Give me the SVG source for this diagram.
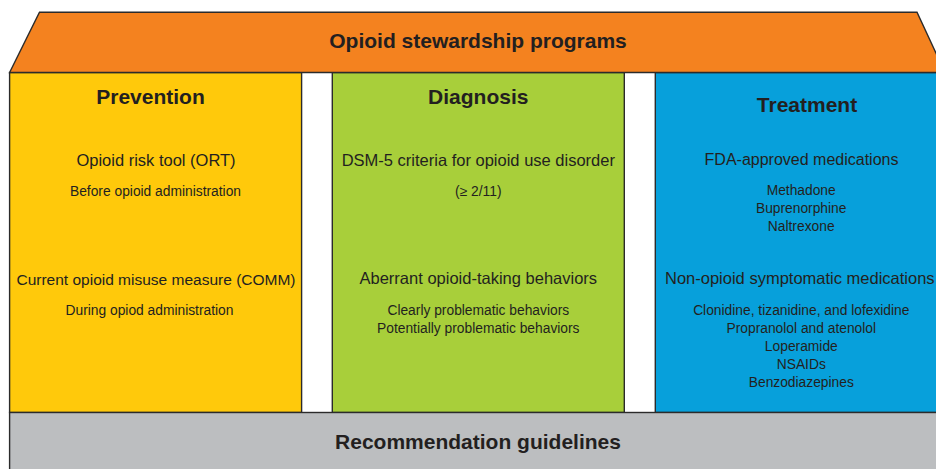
<svg xmlns="http://www.w3.org/2000/svg" width="936" height="469" viewBox="0 0 936 469">
  <style>
    .box { stroke: #2b2b2b; stroke-width: 1.4; }
    .head { font-family: "Liberation Sans", Arial, sans-serif; font-weight: bold; font-size: 21px; fill: #231f20; text-anchor: middle; }
    .sub { font-family: "Liberation Sans", Arial, sans-serif; font-size: 16.5px; fill: #231f20; text-anchor: middle; }
    .item { font-family: "Liberation Sans", Arial, sans-serif; font-size: 13.8px; fill: #231f20; text-anchor: middle; }
  </style>
  <rect width="936" height="469" fill="#ffffff"/>

  <!-- Prevention column -->
  <g id="prevention">
    <rect class="box" x="9.6" y="72.5" width="292" height="340" fill="#ffc90b"/>
    <text class="head" x="150.5" y="104.3">Prevention</text>
    <text class="sub" x="156" y="165.8">Opioid risk tool (ORT)</text>
    <text class="item" x="155.5" y="196">Before opioid administration</text>
    <text class="sub" x="156" y="285" style="font-size:15.5px">Current opioid misuse measure (COMM)</text>
    <text class="item" x="149.5" y="315">During opiod administration</text>
  </g>

  <!-- Diagnosis column -->
  <g id="diagnosis">
    <rect class="box" x="332.3" y="72.5" width="292" height="340" fill="#a8cf3a"/>
    <text class="head" x="478.3" y="104.3">Diagnosis</text>
    <text class="sub" x="478.3" y="166">DSM-5 criteria for opioid use disorder</text>
    <text class="item" x="478.3" y="196">(≥ 2/11)</text>
    <text class="sub" x="478.3" y="284.3">Aberrant opioid-taking behaviors</text>
    <text class="item" x="478.3" y="315">Clearly problematic behaviors</text>
    <text class="item" x="478.3" y="332.8">Potentially problematic behaviors</text>
  </g>

  <!-- Treatment column -->
  <g id="treatment">
    <rect class="box" x="655.3" y="72.5" width="300" height="340" fill="#07a0db"/>
    <text class="head" x="807" y="112">Treatment</text>
    <text class="sub" x="801.5" y="165" style="font-size:16px">FDA-approved medications</text>
    <text class="item" x="801.2" y="195">Methadone</text>
    <text class="item" x="801.2" y="212.8">Buprenorphine</text>
    <text class="item" x="801.2" y="230.6">Naltrexone</text>
    <text class="sub" x="665" y="283.5" style="text-anchor:start">Non-opioid symptomatic medications</text>
    <text class="item" x="801.3" y="314.5">Clonidine, tizanidine, and lofexidine</text>
    <text class="item" x="801.3" y="332.5">Propranolol and atenolol</text>
    <text class="item" x="801.3" y="350.5">Loperamide</text>
    <text class="item" x="801.3" y="368.5">NSAIDs</text>
    <text class="item" x="801.3" y="386.5">Benzodiazepines</text>
  </g>

  <!-- Roof: programs banner -->
  <g id="programs">
    <path class="box" d="M39.5,12.3 L917,12.3 L945,72.5 L9.6,72.5 Z" fill="#f4821f" stroke-linejoin="miter"/>
    <text class="head" x="478" y="48.3">Opioid stewardship programs</text>
  </g>

  <!-- Base: guidelines band -->
  <g id="guidelines">
    <rect class="box" x="9.6" y="412.5" width="940" height="70" fill="#bcbec0"/>
    <text class="head" x="478" y="449.3">Recommendation guidelines</text>
  </g>

  <g id="connectors"/>
</svg>
